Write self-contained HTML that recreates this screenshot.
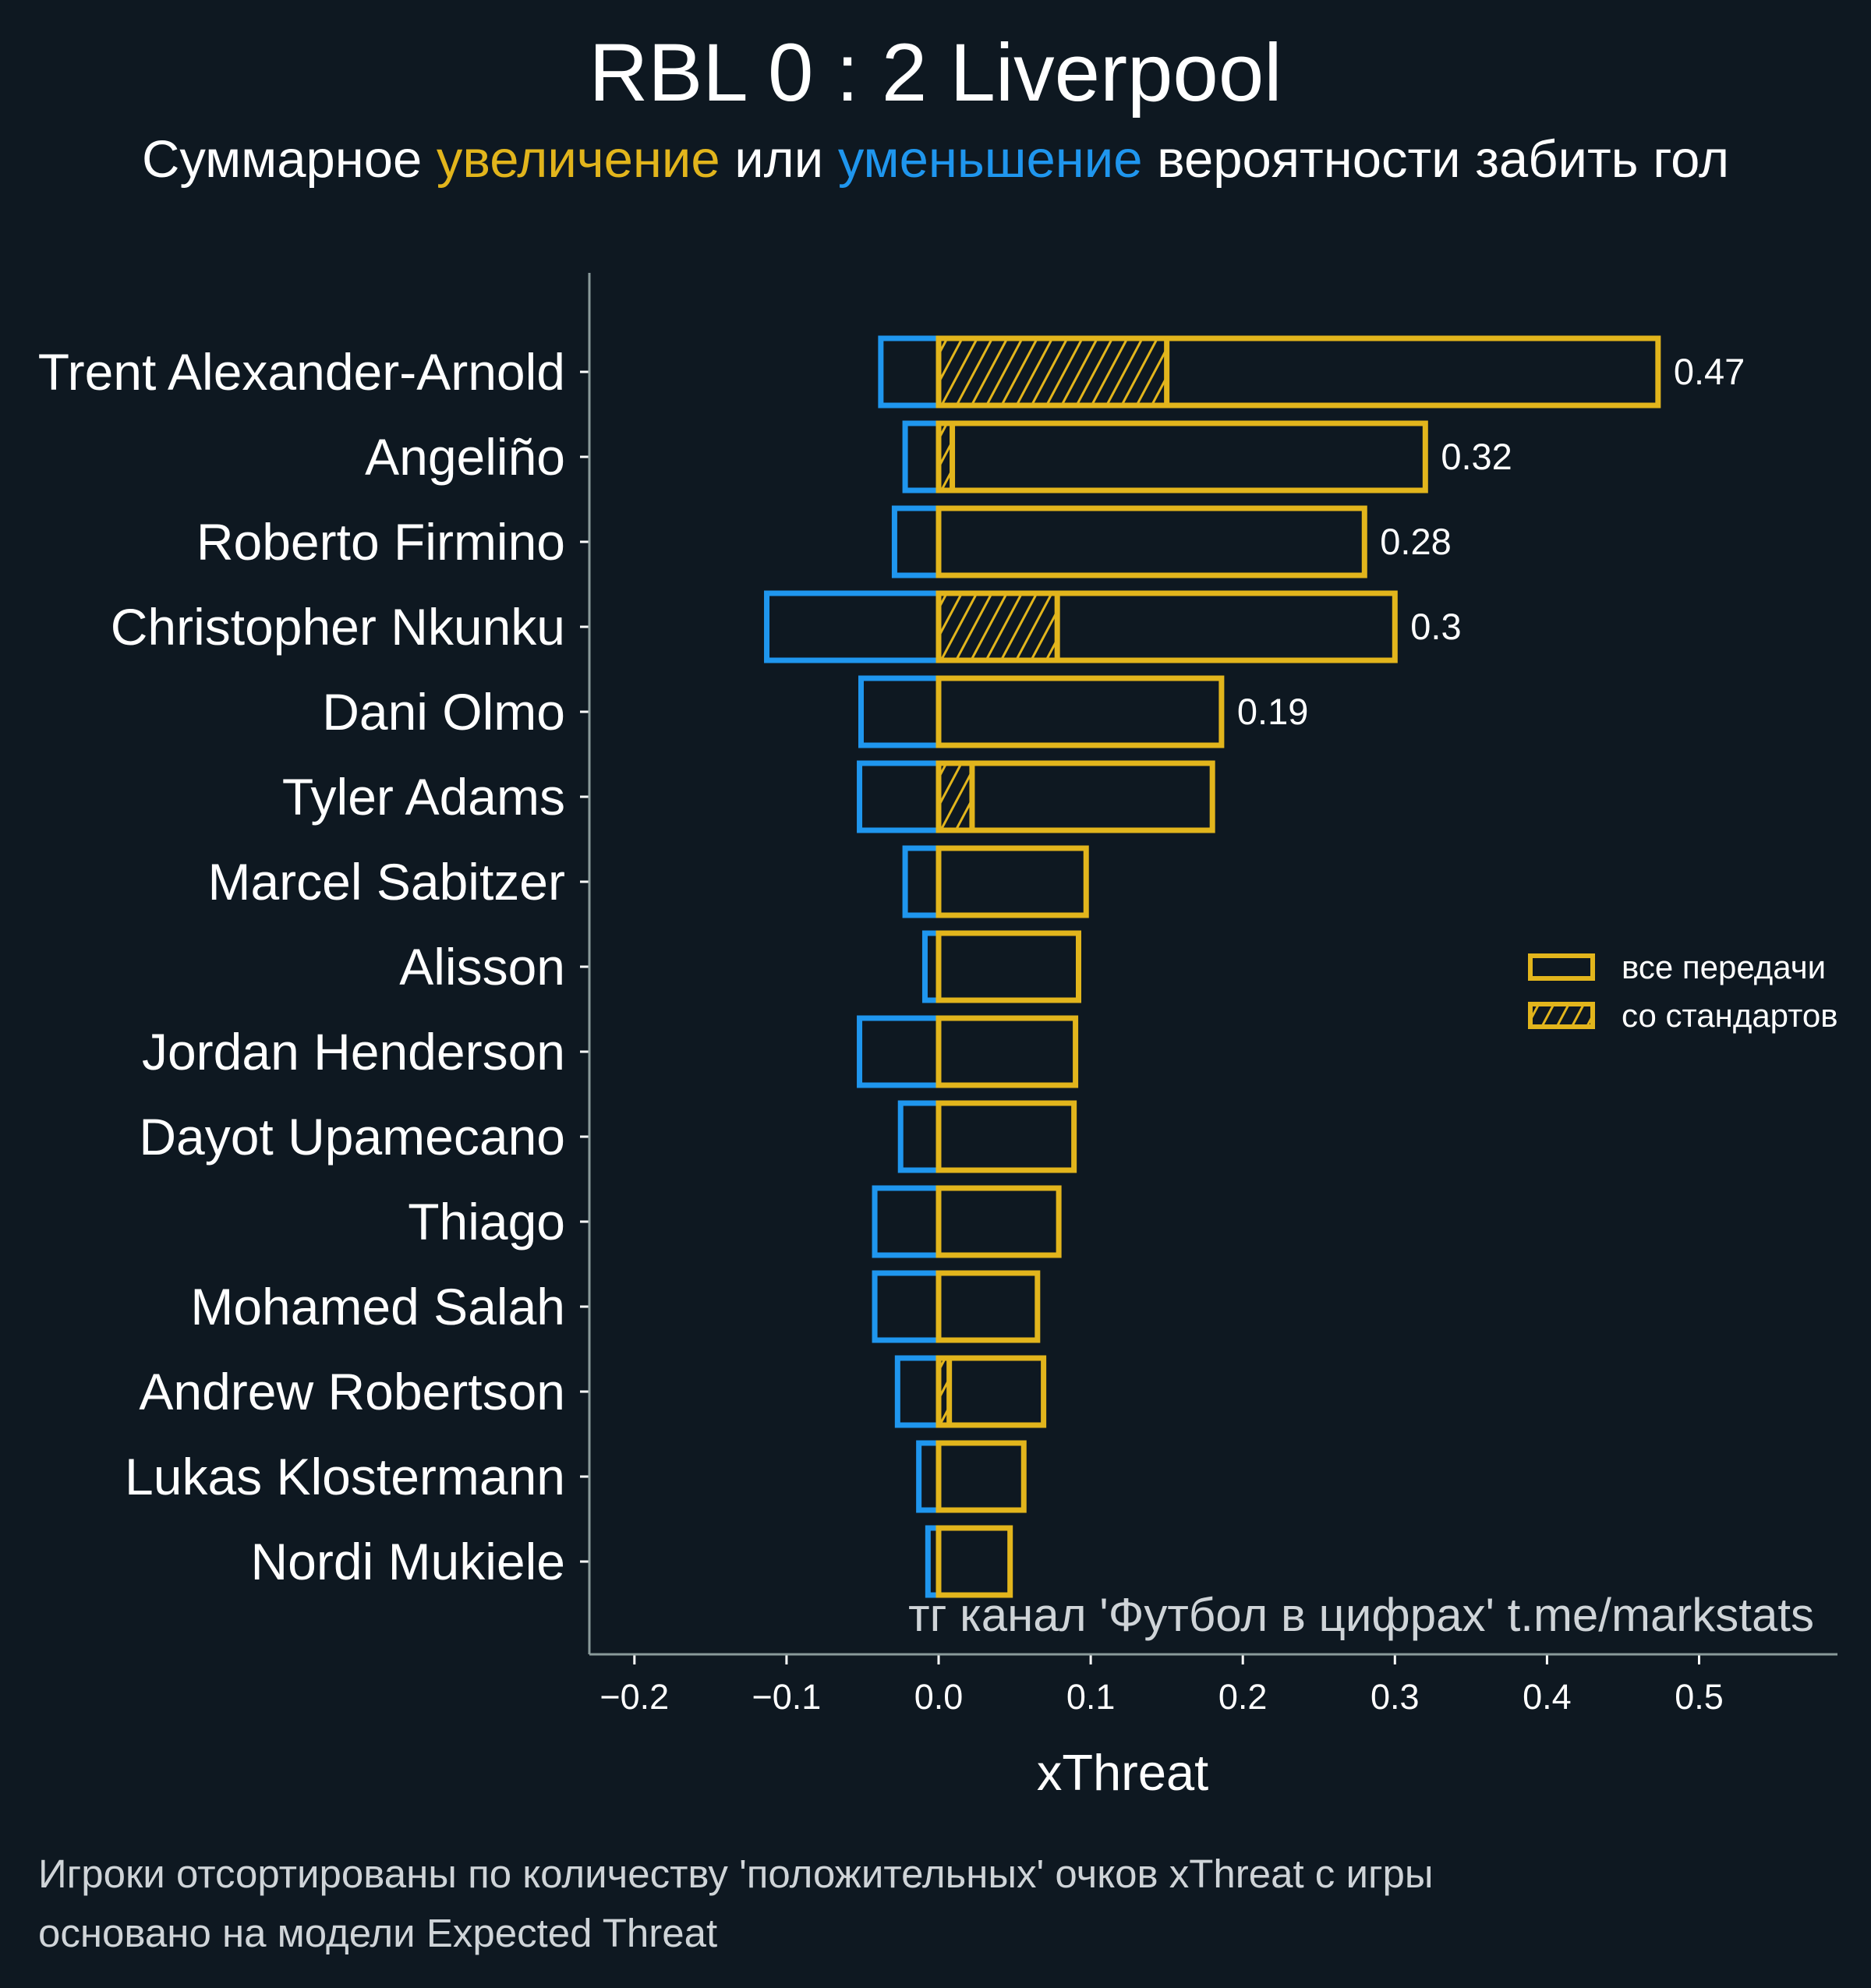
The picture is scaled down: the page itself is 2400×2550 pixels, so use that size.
<!DOCTYPE html>
<html><head><meta charset="utf-8"><style>
html,body{margin:0;padding:0;background:#0e1821;}
svg{display:block;}
text{font-family:"Liberation Sans","DejaVu Sans",sans-serif;}
</style></head><body>
<svg id="chart" width="2400" height="2550" viewBox="0 0 2400 2550" xmlns="http://www.w3.org/2000/svg">
<defs>
<pattern id="hatch" width="17" height="17" patternUnits="userSpaceOnUse" patternTransform="rotate(28)">
<rect width="17" height="17" fill="#0e1821"/>
<rect x="0" y="0" width="3" height="17" fill="#e2b51c"/>
</pattern>
</defs>
<rect width="2400" height="2550" fill="#0e1821"/>
<text x="1200" y="129" text-anchor="middle" font-size="105" fill="#ffffff">RBL 0 : 2 Liverpool</text>
<text x="1200" y="227" text-anchor="middle" font-size="67" fill="#ffffff">Суммарное <tspan fill="#e2b51c">увеличение</tspan> или <tspan fill="#1f96ee">уменьшение</tspan> вероятности забить гол</text>
<g id="plot"></g>
<line x1="756" y1="350" x2="756" y2="2122" stroke="#8a9a9a" stroke-width="3"/>
<line x1="756" y1="2122" x2="2357" y2="2122" stroke="#8a9a9a" stroke-width="3"/>
<text x="1440" y="2296" text-anchor="middle" font-size="65" fill="#ffffff">xThreat</text>
<text x="2327" y="2092" text-anchor="end" font-size="60" fill="#cfd4d8">тг канал 'Футбол в цифрах'  t.me/markstats</text>
<g>
<rect x="1963" y="1226" width="80" height="29" fill="none" stroke="#e2b51c" stroke-width="6"/>
<text x="2080" y="1255" font-size="42" fill="#ffffff">все передачи</text>
<rect x="1963" y="1288" width="80" height="29" fill="url(#hatch)" stroke="#e2b51c" stroke-width="6"/>
<text x="2080" y="1317" font-size="42" fill="#ffffff">со стандартов</text>
</g>
<text x="49" y="2421" font-size="51" fill="#cfd4d8">Игроки отсортированы по количеству 'положительных' очков xThreat с игры</text>
<text x="49" y="2497" font-size="51" fill="#cfd4d8">основано на модели Expected Threat</text>
</svg>
<script>
const players = ["Trent Alexander-Arnold","Angeliño","Roberto Firmino","Christopher Nkunku","Dani Olmo","Tyler Adams","Marcel Sabitzer","Alisson","Jordan Henderson","Dayot Upamecano","Thiago","Mohamed Salah","Andrew Robertson","Lukas Klostermann","Nordi Mukiele"];
const positive = [0.473,0.32,0.28,0.30,0.186,0.18,0.097,0.092,0.09,0.089,0.079,0.065,0.069,0.056,0.047];
const setPiece = [0.150,0.009,0,0.078,0,0.022,0,0,0,0,0,0,0.007,0,0];
const negative = [-0.038,-0.022,-0.029,-0.113,-0.051,-0.052,-0.022,-0.009,-0.052,-0.025,-0.042,-0.042,-0.027,-0.013,-0.007];
const valueLabels = ["0.47","0.32","0.28","0.3","0.19","","","","","","","","","",""];
const xTicks = [-0.2,-0.1,0.0,0.1,0.2,0.3,0.4,0.5];
const xTickLabels = ["−0.2","−0.1","0.0","0.1","0.2","0.3","0.4","0.5"];

const NS="http://www.w3.org/2000/svg";
const X0=1204, XS=1951;
function xs(v){return X0+v*XS;}
function ys(i){return 477+i*109;}
const g=document.getElementById('plot');
function mk(tag,attrs){const e=document.createElementNS(NS,tag);for(const k in attrs)e.setAttribute(k,attrs[k]);return e;}
const H=86;
players.forEach((p,i)=>{
  const yc=ys(i);
  const nb=mk('rect',{x:xs(negative[i]),y:yc-H/2,width:xs(0)-xs(negative[i]),height:H,fill:'none',stroke:'#1f96ee','stroke-width':7});
  
  
  g.appendChild(nb);
  const pb=mk('rect',{x:xs(0),y:yc-H/2,width:xs(positive[i])-xs(0),height:H,fill:'#0e1821',stroke:'#e2b51c','stroke-width':7});
  
  
  g.appendChild(pb);
  if(setPiece[i]>0){
    const hb=mk('rect',{x:xs(0),y:yc-H/2,width:xs(setPiece[i])-xs(0),height:H,fill:'url(#hatch)',stroke:'#e2b51c','stroke-width':7});
    
    
    g.appendChild(hb);
  }
  if(valueLabels[i]){
    const vt=mk('text',{x:xs(positive[i])+20,y:yc+16,'font-size':47,fill:'#ffffff'});
    vt.textContent=valueLabels[i];
    
    
    g.appendChild(vt);
  }
  const tk=mk('line',{x1:744,x2:756,y1:yc,y2:yc,stroke:'#ffffff','stroke-width':3});
  
  
  g.appendChild(tk);
  const lt=mk('text',{x:725,y:yc+23,'text-anchor':'end','font-size':66,fill:'#ffffff'});
  lt.textContent=p;
  
  
  g.appendChild(lt);
});
xTicks.forEach((t,j)=>{
  const tk=mk('line',{x1:xs(t),x2:xs(t),y1:2123,y2:2135,stroke:'#ffffff','stroke-width':3});
  
  
  g.appendChild(tk);
  const tl=mk('text',{x:xs(t),y:2192,'text-anchor':'middle','font-size':45,fill:'#ffffff'});
  tl.textContent=xTickLabels[j];
  
  
  g.appendChild(tl);
});
</script>
</body></html>
